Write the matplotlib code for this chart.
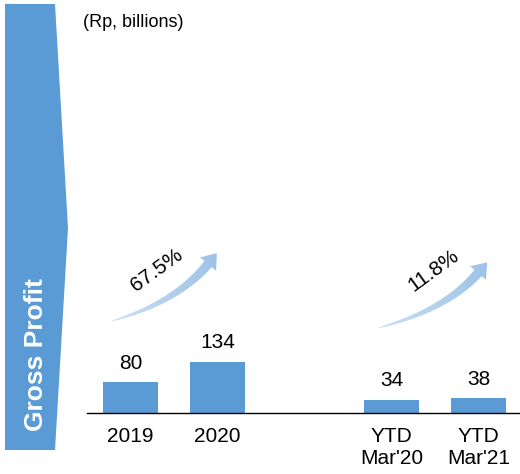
import matplotlib
matplotlib.use("Agg")
import matplotlib.pyplot as plt
import numpy as np
from matplotlib.patches import Polygon

plt.rcParams['font.family'] = ['Liberation Sans', 'DejaVu Sans']

# gross profit, Rp billions
periods = ["2019", "2020", "YTD\nMar'20", "YTD\nMar'21"]
positions = [0, 1, 3, 4]
gross_profit = [80, 134, 34, 38]
growth_labels = ["67.5%", "11.8%"]

BLUE = "#5b9bd5"


def curved_arrow(ax, tail, ctrl, base, head_len, head_half, shaft_half):
    p0, p1, p2 = np.array(tail), np.array(ctrl), np.array(base)
    t = np.linspace(0, 1, 80)[:, None]
    pts = (1 - t)**2 * p0 + 2 * (1 - t) * t * p1 + t**2 * p2
    tan = 2 * (1 - t) * (p1 - p0) + 2 * t * (p2 - p1)
    tan = tan / np.linalg.norm(tan, axis=1)[:, None]
    nrm = np.column_stack([-tan[:, 1], tan[:, 0]])
    w = (0.3 + shaft_half * t[:, 0]**0.75)[:, None]
    side_a = pts + nrm * w
    side_b = pts - nrm * w
    te, ne = tan[-1], nrm[-1]
    head = [p2 + ne * head_half, p2 + te * head_len, p2 - ne * head_half]
    verts = np.vstack([side_a, head, side_b[::-1]])
    poly = Polygon(verts, closed=True, facecolor="none", edgecolor="none")
    ax.add_patch(poly)
    # light-to-darker fill along the arrow
    x0, x1 = verts[:, 0].min(), verts[:, 0].max()
    y0, y1 = verts[:, 1].min(), verts[:, 1].max()
    grad = np.linspace(0, 1, 256)[None, :]
    cmap = matplotlib.colors.LinearSegmentedColormap.from_list(
        "arr", ["#cfe1f3", "#9dc3e6"])
    im = ax.imshow(grad, extent=(x0, x1, y1, y0), cmap=cmap,
                   aspect="auto", interpolation="bilinear")
    im.set_clip_path(poly)


fig = plt.figure(figsize=(5.2, 4.74), dpi=100)

# bars
ax = fig.add_axes([87 / 520, 61 / 474, 435 / 520, 413 / 474])
ax.patch.set_visible(False)
bars = ax.bar(positions, gross_profit, width=0.64, color=BLUE)
for x, v in zip(positions, gross_profit):
    ax.annotate(str(v), (x, v), xytext=(0, 7), textcoords="offset points",
                ha="center", va="bottom", fontsize=15)
ax.set_xlim(-0.5, 4.5)
ax.set_ylim(0, 1075)
ax.set_xticks(positions)
ax.set_xticklabels(periods, fontsize=15, linespacing=1.2)
ax.tick_params(axis="x", length=0, pad=10)
ax.set_yticks([])
for s in ["top", "left", "right"]:
    ax.spines[s].set_visible(False)
ax.spines["bottom"].set_linewidth(1.0)
ax.spines["bottom"].set_color("black")

# decorations in pixel space
deco = fig.add_axes([0, 0, 1, 1], zorder=-1)
deco.axis("off")
chevron = Polygon([(5, 4), (55, 4), (68, 228), (55, 450), (5, 450)],
                  closed=True, facecolor=BLUE, edgecolor="none")
deco.add_patch(chevron)
deco.text(43, 355, "Gross Profit", rotation=90, rotation_mode="anchor",
          ha="center", va="baseline", color="white", fontsize=19,
          fontweight="bold")
deco.text(83, 22, "(Rp, billions)", ha="left", va="center", fontsize=13)

curved_arrow(deco, (112, 321), (177, 302), (208, 264), 14, 10.5, 4.5)
curved_arrow(deco, (378, 328), (446, 310), (478, 273), 14, 10.5, 4.5)
deco.text(157, 270, growth_labels[0], rotation=36, ha="center", va="center",
          fontsize=15)
deco.text(434, 271, growth_labels[1], rotation=36, ha="center", va="center",
          fontsize=15)
deco.set_xlim(0, 520)
deco.set_ylim(474, 0)

fig.savefig("out.png", dpi=100)
